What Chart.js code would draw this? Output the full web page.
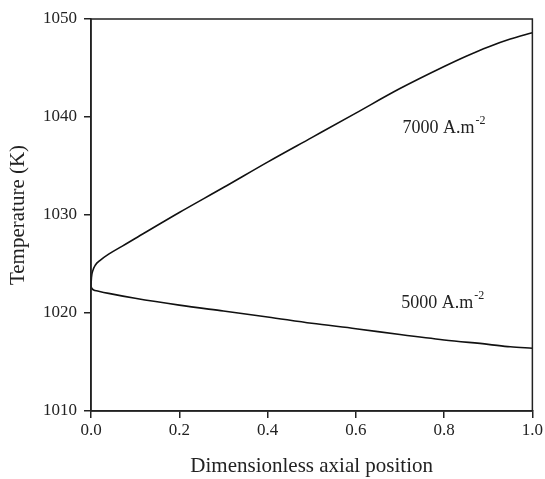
<!DOCTYPE html>
<html>
<head>
<meta charset="utf-8">
<script src="https://cdn.jsdelivr.net/npm/chart.js@4/dist/chart.umd.min.js"></script>
<style>
	html, body { margin: 0; padding: 0; background: #fff; }
	#wrap { width: 545px; height: 479px; }
</style>
</head>
<body>
<div id="wrap"><canvas id="tempChart" width="545" height="479"></canvas></div>
<script>
// Data
const posHigh = [0, 0.001, 0.004, 0.01, 0.02, 0.04, 0.07, 0.1, 0.2, 0.3, 0.4, 0.5, 0.6, 0.7, 0.8, 0.85, 0.9, 0.95, 1.0];
const tempHigh = [1022.75, 1023.6, 1024.3, 1024.9, 1025.35, 1026.0, 1026.8, 1027.6, 1030.25, 1032.8, 1035.4, 1037.9, 1040.4, 1042.9, 1045.15, 1046.2, 1047.15, 1047.95, 1048.6];
const posLow = [0, 0.002, 0.006, 0.015, 0.04, 0.1, 0.2, 0.3, 0.4, 0.5, 0.6, 0.7, 0.8, 0.9, 0.95, 1.0];
const tempLow = [1022.75, 1022.5, 1022.35, 1022.25, 1022.0, 1021.5, 1020.8, 1020.2, 1019.6, 1018.95, 1018.4, 1017.8, 1017.25, 1016.8, 1016.55, 1016.4];
const xTicks = [0, 0.2, 0.4, 0.6, 0.8, 1.0];
const yTicks = [1010, 1020, 1030, 1040, 1050];

// Curve labels (data coords)
const curveLabels = [
	{ text: '7000 A.m', sup: '-2', x: 0.706, y: 1038.9 },
	{ text: '5000 A.m', sup: '-2', x: 0.703, y: 1021.0 }
];

const FONT = "'Liberation Serif', 'Times New Roman', serif";

// Frame round the plot + curve labels
const extras = {
	id: 'extras',
	afterDraw(chart) {
		const { ctx, chartArea: a, scales } = chart;
		ctx.save();
		ctx.strokeStyle = '#222';
		ctx.lineWidth = 1.5;
		ctx.strokeRect(a.left, a.top, a.right - a.left, a.bottom - a.top);
		ctx.fillStyle = '#222';
		ctx.textBaseline = 'middle';
		curveLabels.forEach(l => {
			const px = scales.x.getPixelForValue(l.x);
			const py = scales.y.getPixelForValue(l.y);
			ctx.font = `18px ${FONT}`;
			ctx.textAlign = 'left';
			ctx.fillText(l.text, px, py);
			const w = ctx.measureText(l.text).width;
			ctx.font = `12px ${FONT}`;
			ctx.fillText(l.sup, px + w + 1, py - 7);
		});
		ctx.restore();
	}
};

new Chart(document.getElementById('tempChart'), {
	type: 'line',
	data: {
		datasets: [{
			label: '7000 A.m-2',
			data: posHigh.map((x, i) => ({ x: x, y: tempHigh[i] })),
			borderColor: '#111',
			borderWidth: 1.6,
			pointRadius: 0,
			cubicInterpolationMode: 'monotone'
		}, {
			label: '5000 A.m-2',
			data: posLow.map((x, i) => ({ x: x, y: tempLow[i] })),
			borderColor: '#111',
			borderWidth: 1.6,
			pointRadius: 0,
			cubicInterpolationMode: 'monotone'
		}]
	},
	options: {
		responsive: false,
		animation: false,
		layout: { padding: { top: 19, right: 12, left: 0, bottom: 0 } },
		plugins: { legend: { display: false }, tooltip: { enabled: false } },
		scales: {
			x: {
				type: 'linear',
				min: 0, max: 1,
				afterBuildTicks: s => { s.ticks = xTicks.map(v => ({ value: v })); },
				afterFit: s => { s.height = 68; },
				grid: { drawOnChartArea: false, drawTicks: true, tickLength: 7, color: '#222', lineWidth: 1.5 },
				border: { color: '#222', width: 1.5 },
				ticks: {
					color: '#222', padding: 2,
					font: { family: FONT, size: 17 },
					callback: v => v.toFixed(1),
					maxRotation: 0
				},
				title: {
					display: true, text: 'Dimensionless axial position', color: '#222',
					font: { family: FONT, size: 21 }, padding: { top: 4, bottom: 0 }
				}
			},
			y: {
				min: 1010, max: 1050,
				afterBuildTicks: s => { s.ticks = yTicks.map(v => ({ value: v })); },
				afterFit: s => { s.width = 91; },
				grid: { drawOnChartArea: false, drawTicks: true, tickLength: 7, color: '#222', lineWidth: 1.5 },
				border: { color: '#222', width: 1.5 },
				ticks: {
					color: '#222', padding: 7,
					font: { family: FONT, size: 17 },
					callback: v => String(v)
				},
				title: {
					display: true, text: 'Temperature (K)', color: '#222',
					font: { family: FONT, size: 21 }, padding: { top: 6, bottom: 2 }
				}
			}
		}
	},
	plugins: [extras]
});
</script>
</body>
</html>
